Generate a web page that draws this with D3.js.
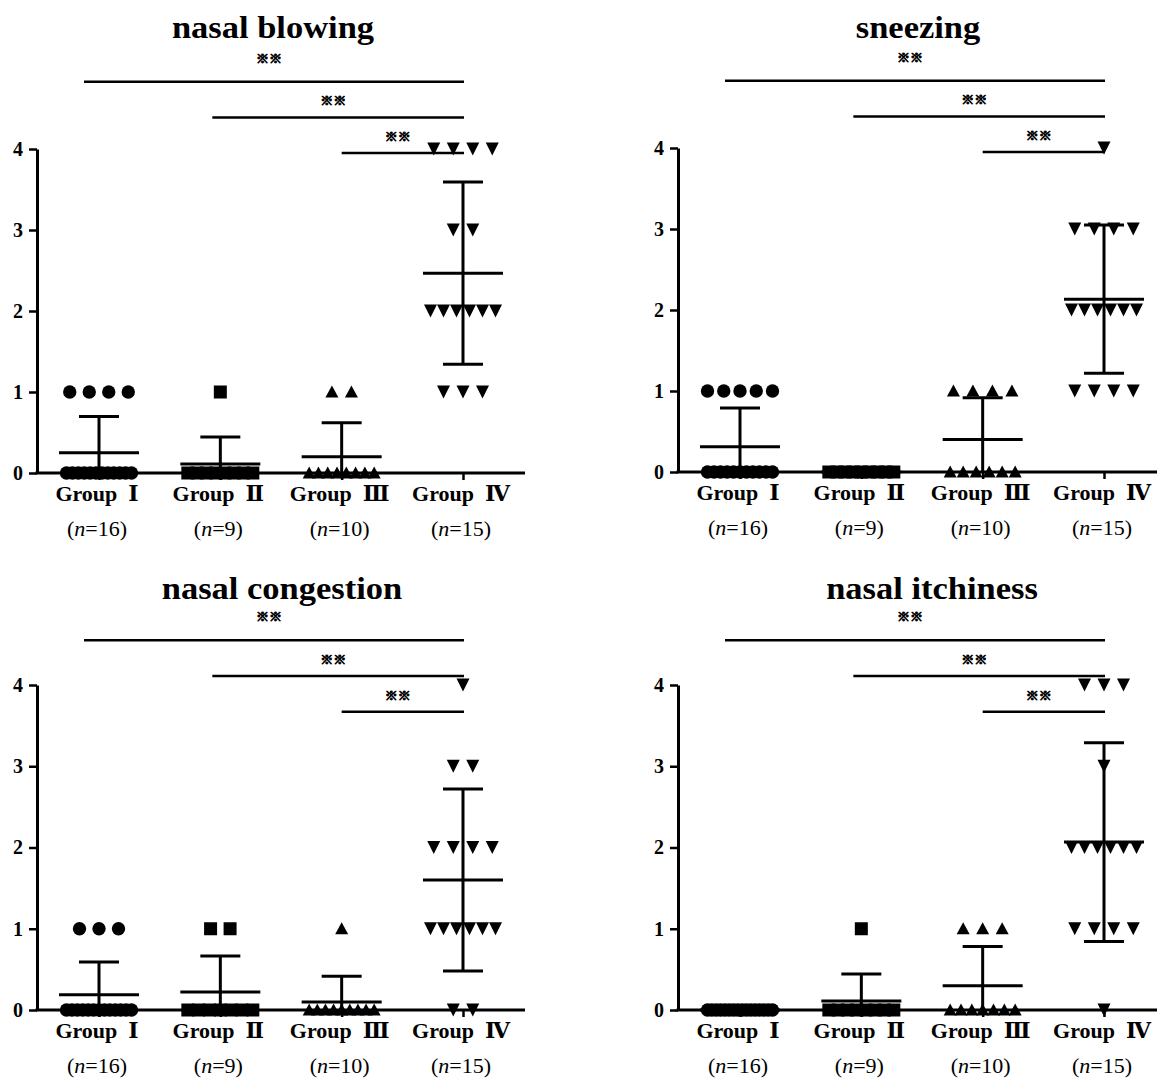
<!DOCTYPE html>
<html><head><meta charset="utf-8">
<script src="https://cdn.jsdelivr.net/npm/d3@7"></script>
<style>body{margin:0;background:#fff}svg{display:block}</style>
</head><body><svg id="chart" width="1157" height="1078"></svg>
<script>
// ---------------- data ----------------
const titles = ["nasal blowing", "sneezing", "nasal congestion", "nasal itchiness"];
const groups = ["Group \u2160", "Group \u2161", "Group \u2162", "Group \u2163"];
const groupN = [16, 9, 10, 15];
const yTicks = [0, 1, 2, 3, 4];
const sigLabel = "\u203b\u203b";
const comparisons = [[0, 3], [1, 3], [2, 3]];

const nasalBlowing = [
  [1, 1, 1, 1, 0, 0, 0, 0, 0, 0, 0, 0, 0, 0, 0, 0],
  [1, 0, 0, 0, 0, 0, 0, 0, 0],
  [1, 1, 0, 0, 0, 0, 0, 0, 0, 0],
  [4, 4, 4, 4, 3, 3, 2, 2, 2, 2, 2, 2, 1, 1, 1]
];
const sneezing = [
  [1, 1, 1, 1, 1, 0, 0, 0, 0, 0, 0, 0, 0, 0, 0, 0],
  [0, 0, 0, 0, 0, 0, 0, 0, 0],
  [1, 1, 1, 1, 0, 0, 0, 0, 0, 0],
  [4, 3, 3, 3, 3, 2, 2, 2, 2, 2, 2, 1, 1, 1, 1]
];
const nasalCongestion = [
  [1, 1, 1, 0, 0, 0, 0, 0, 0, 0, 0, 0, 0, 0, 0, 0],
  [1, 1, 0, 0, 0, 0, 0, 0, 0],
  [1, 0, 0, 0, 0, 0, 0, 0, 0, 0],
  [4, 3, 3, 2, 2, 2, 2, 1, 1, 1, 1, 1, 1, 0, 0]
];
const nasalItchiness = [
  [0, 0, 0, 0, 0, 0, 0, 0, 0, 0, 0, 0, 0, 0, 0, 0],
  [1, 0, 0, 0, 0, 0, 0, 0, 0],
  [1, 1, 1, 0, 0, 0, 0, 0, 0, 0],
  [4, 4, 4, 3, 2, 2, 2, 2, 2, 2, 1, 1, 1, 1, 0]
];
const panelData = [nasalBlowing, sneezing, nasalCongestion, nasalItchiness];

// ---------------- layout / style ----------------
const layout = [
  {ax: 37,  y0: 473,  y4: 149, titleX: 273, titleY: 38,  base: 3.95, end: 525},
  {ax: 678, y0: 472,  y4: 148, titleX: 918, titleY: 38,  base: 3.95, end: 1160},
  {ax: 37,  y0: 1010, y4: 685, titleX: 282, titleY: 599, base: 3.67, end: 525},
  {ax: 678, y0: 1010, y4: 685, titleX: 932, titleY: 599, base: 3.67, end: 1160}
];
const serif = "'Liberation Serif','Times New Roman','DejaVu Serif',serif";
const numeralFont = "'Liberation Serif','DejaVu Serif','Noto Sans CJK SC',serif";

const triUp = {draw(ctx) { ctx.moveTo(0, -6.5); ctx.lineTo(6.5, 5.5); ctx.lineTo(-6.5, 5.5); ctx.closePath(); }};
const triDown = {draw(ctx) { ctx.moveTo(0, 6.5); ctx.lineTo(6.5, -6.5); ctx.lineTo(-6.5, -6.5); ctx.closePath(); }};
const symbolTypes = [d3.symbolCircle, d3.symbolSquare, triUp, triDown];
const symbolSizes = [140, 169, 1, 1];

const svg = d3.select("#chart");
svg.append("rect").attr("width", 1157).attr("height", 1078).attr("fill", "#fff");

panelData.forEach((data, pi) => {
  const L = layout[pi];
  const g = svg.append("g").attr("transform", `translate(${L.ax},0)`);
  const y = d3.scaleLinear().domain([0, 4]).range([L.y0, L.y4]);
  const x = d3.scalePoint().domain(groups).range([62, 426]);

  // title
  svg.append("text")
    .attr("transform", `translate(${L.titleX},${L.titleY}) scale(1.15,1.05)`)
    .attr("text-anchor", "middle")
    .style("font-family", serif).style("font-weight", "bold").style("font-size", "30px")
    .text(titles[pi]);

  // y axis
  const ya = g.append("g").call(d3.axisLeft(y).tickValues(yTicks).tickFormat(d3.format("d"))
    .tickSize(8).tickSizeOuter(0).tickPadding(6));
  ya.attr("font-family", serif).attr("font-size", 20);
  ya.select(".domain").attr("stroke-width", 3);
  ya.selectAll(".tick line").attr("stroke-width", 2.5);
  ya.selectAll(".tick text").style("font-family", serif).style("font-weight", "bold").style("font-size", "20px");

  // x axis
  const xa = g.append("g").attr("transform", `translate(0,${L.y0})`)
    .call(d3.axisBottom(x).tickSize(7).tickSizeOuter(0).tickFormat(""));
  xa.select(".domain").remove();
  xa.selectAll(".tick line").attr("stroke-width", 2.5);
  g.append("line").attr("x1", -1.5).attr("x2", L.end - L.ax).attr("y1", L.y0).attr("y2", L.y0)
    .attr("stroke", "#000").attr("stroke-width", 3);

  // group labels
  groups.forEach((grp, gi) => {
    const cx = x(grp);
    const t = g.append("text").attr("x", cx - 2).attr("y", L.y0 + 28).attr("text-anchor", "middle")
      .style("font-family", serif).style("font-weight", "bold").style("font-size", "22px");
    const parts = grp.split(" ");
    t.append("tspan").text(parts[0] + "\u2002");
    t.append("tspan").style("font-family", numeralFont).text(parts[1]);
    const n = g.append("text").attr("x", cx - 2).attr("y", L.y0 + 63).attr("text-anchor", "middle")
      .style("font-family", serif).style("font-size", "22px");
    n.append("tspan").text("(");
    n.append("tspan").style("font-style", "italic").text("n");
    n.append("tspan").text("=" + groupN[gi] + ")");
  });

  // points
  data.forEach((vals, gi) => {
    const cx = x(groups[gi]);
    const counts = d3.rollups(vals, v => v.length, d => d);
    const sym = d3.symbol().type(symbolTypes[gi]).size(symbolSizes[gi]);
    counts.forEach(([v, k]) => {
      const step = k > 1 ? Math.min(19.5, 65 / (k - 1)) : 0;
      d3.range(k).forEach(j => {
        const px = cx + (j - (k - 1) / 2) * step;
        g.append("path").attr("d", sym()).attr("transform", `translate(${px},${y(v)})`).attr("fill", "#000");
      });
    });
  });

  // mean +/- SD
  data.forEach((vals, gi) => {
    const cx = x(groups[gi]);
    const m = d3.mean(vals), sd = d3.deviation(vals) || 0;
    const ln = (x1, x2, y1, y2) => g.append("line").attr("x1", x1).attr("x2", x2).attr("y1", y1).attr("y2", y2)
      .attr("stroke", "#000").attr("stroke-width", 3);
    ln(cx - 40, cx + 40, y(m), y(m));
    if (sd > 0) {
      const hi = m + sd, lo = Math.max(0, m - sd);
      ln(cx, cx, y(lo), y(hi));
      ln(cx - 20, cx + 20, y(hi), y(hi));
      if (m - sd >= 0) ln(cx - 20, cx + 20, y(lo), y(lo));
    }
  });

  // significance brackets
  const startOff = [15, 8, 0];
  const starOff = [24, 17, 17];
  comparisons.forEach(([a, b], ci) => {
    const level = comparisons.length - 1 - ci;
    const ly = y(L.base + level * 0.44);
    const x1 = x(groups[a]) - startOff[ci], x2 = x(groups[b]) + 1;
    g.append("line").attr("x1", x1).attr("x2", x2).attr("y1", ly).attr("y2", ly)
      .attr("stroke", "#000").attr("stroke-width", 2.5);
    g.append("text").attr("x", (x1 + x2) / 2 - 5).attr("y", ly - starOff[ci] + 5)
      .attr("text-anchor", "middle")
      .style("font-family", "'Noto Sans CJK SC',sans-serif").style("font-size", "13px").style("font-weight", "bold")
      .attr("fill", "#000").attr("stroke", "#000").attr("stroke-width", 0.9)
      .text(sigLabel);
  });
});
</script>
</body></html>
